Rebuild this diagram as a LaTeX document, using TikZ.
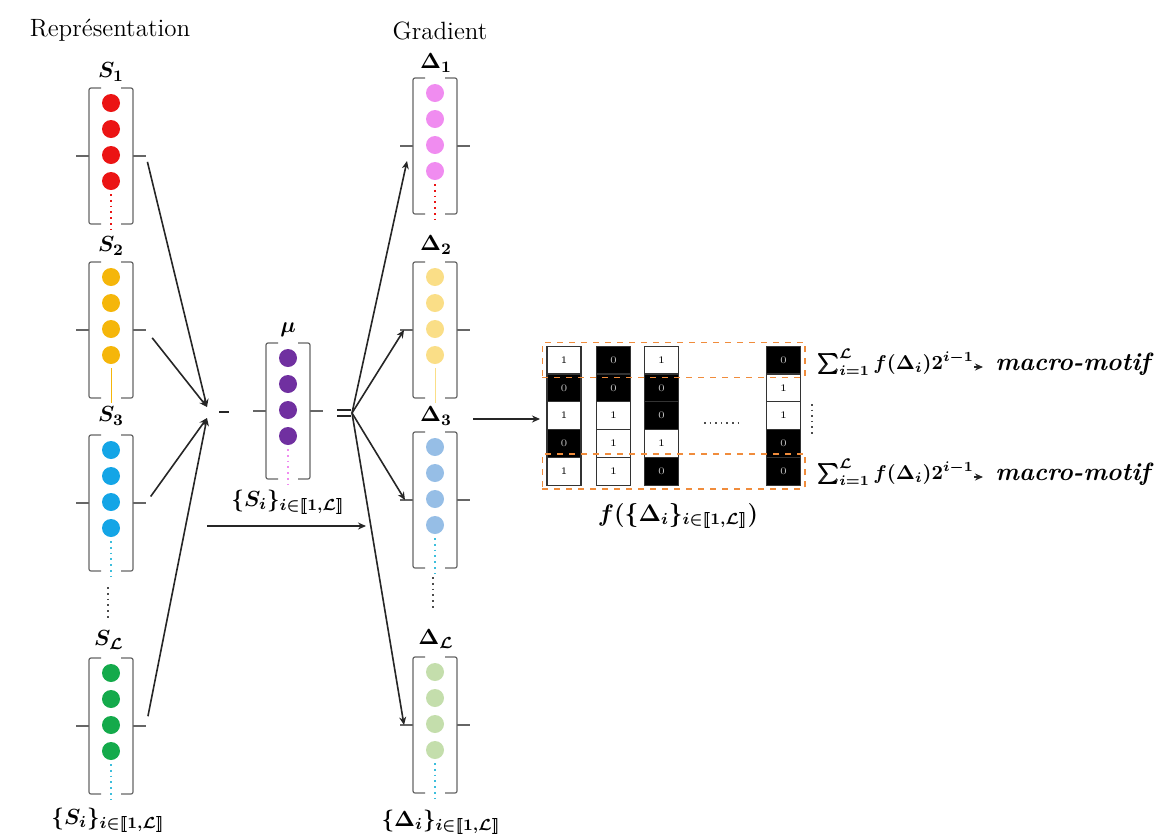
\documentclass[tikz,border=0pt]{standalone}
\usepackage{amsmath,bm}
\usetikzlibrary{arrows.meta,fit}
\definecolor{sred}{RGB}{235,20,20}
\definecolor{syellow}{RGB}{245,182,10}
\definecolor{sblue}{RGB}{20,165,230}
\definecolor{sgreen}{RGB}{20,170,75}
\definecolor{mpurple}{RGB}{112,48,160}
\definecolor{dpink}{RGB}{240,140,240}
\definecolor{dyellow}{RGB}{250,222,135}
\definecolor{dblue}{RGB}{150,190,230}
\definecolor{dgreen}{RGB}{196,222,172}
\definecolor{ocol}{RGB}{240,140,60}
\definecolor{cyanl}{RGB}{60,190,220}
\tikzset{
 brk/.style={draw=black!60, line width=0.6pt, rounded corners=1pt},
 conn/.style={draw=black!85, line width=0.8pt},
 arr/.style={conn, -{Stealth[length=4pt,width=3.5pt]}},
 lbl/.style={inner sep=0, font=\fontsize{11}{13}\selectfont},
 ttl/.style={inner sep=0, font=\fontsize{12.5}{14}\selectfont},
 one/.style={draw=black!80, fill=white, line width=0.6pt, minimum width=17pt, minimum height=13.9pt, inner sep=0, font=\fontsize{5}{6}\selectfont},
 zero/.style={one, fill=black, text=white!75!black},
 obox/.style={draw=ocol, dashed, line width=0.9pt, inner xsep=2pt, inner ysep=1.5pt},
 rtxt/.style={inner sep=0, anchor=west, font=\fontsize{12.5}{14}\selectfont},
 stxt/.style={inner sep=0, anchor=west, font=\fontsize{10}{12}\selectfont},
 vdot/.style={dotted, line width=0.9pt},
 vsol/.style={line width=0.5pt},
}
\newcommand\vecbox[5]{%
 \begin{scope}[shift={(#2,#3)}]
  \node[inner sep=0, minimum width=22pt, minimum height=68pt, anchor=north] (#1) at (0,0) {};
  \draw[brk] (-10,0) -- (-22,0) -- (-22,136) -- (-10,136);
  \draw[brk] (10,0) -- (22,0) -- (22,136) -- (10,136);
  \draw[brk] (-22,68) -- (-35,68);
  \draw[brk] (22,68) -- (35,68);
  \coordinate (#1-l) at (-35,68);
  \coordinate (#1-r) at (35,68);
  \foreach \k in {0,...,3} \fill[#4] (0,15+26*\k) circle[radius=9];
  \draw[#5] (0,106) -- (0,141);
 \end{scope}}
\begin{document}
\begin{tikzpicture}[x=0.5pt,y=-0.5pt]
\useasboundingbox (0,0) rectangle (1165,837);
% titles
\node[ttl] (trep) at (110,30) {Représentation};
\node[ttl] (tgrad) at (440,31) {Gradient};
% left column
\node[lbl] (ls1) at (111,72) {$\bm{S_1}$};
\vecbox{s1}{111}{88}{sred}{sred,vdot}
\node[lbl] (ls2) at (111,246) {$\bm{S_2}$};
\vecbox{s2}{111}{262}{syellow}{syellow,vsol}
\node[lbl] (ls3) at (111,416) {$\bm{S_3}$};
\vecbox{s3}{111}{435}{sblue}{cyanl,vdot}
\draw[vdot,black!70] (108,587) -- (108,618);
\node[lbl] (lsl) at (109,640) {$\bm{S_{\mathcal{L}}}$};
\vecbox{sl}{111}{658}{sgreen}{cyanl,vdot}
\node[lbl] (lsb) at (108,820) {$\bm{\{S_i\}_{i\in[\![1,\mathcal{L}]\!]}}$};
% mu
\node[lbl] (lmu) at (288,330) {$\bm{\mu}$};
\vecbox{mu}{288}{343}{mpurple}{dpink,vdot}
\node[lbl] (lsm) at (288,502) {$\bm{\{S_i\}_{i\in[\![1,\mathcal{L}]\!]}}$};
% delta column
\node[lbl] (ld1) at (436,63) {$\bm{\Delta_1}$};
\vecbox{d1}{435}{78}{dpink}{sred,vdot}
\node[lbl] (ld2) at (436,245) {$\bm{\Delta_2}$};
\vecbox{d2}{435}{262}{dyellow}{dyellow,vsol}
\node[lbl] (ld3) at (436,416) {$\bm{\Delta_3}$};
\vecbox{d3}{435}{432}{dblue}{cyanl,vdot}
\draw[vdot,black!70] (433,577) -- (433,608);
\node[lbl] (ldl) at (436,639) {$\bm{\Delta_{\mathcal{L}}}$};
\vecbox{dl}{435}{657}{dgreen}{cyanl,vdot}
\node[lbl] (ldb) at (441,822) {$\bm{\{\Delta_i\}_{i\in[\![1,\mathcal{L}]\!]}}$};
% convergence
\coordinate (c1) at (207,407);
\coordinate (c2) at (207,418);
\draw[arr, shorten <=3pt] (s1-r) -- (c1);
\draw[arr, shorten <=5pt] (s2-r) -- (c1);
\draw[arr, shorten <=4pt] (s3-r) -- (c2);
\draw[arr, shorten <=5pt] (sl-r) -- (c2);
\coordinate (dsh1) at (219,412);
\coordinate (dsh2) at (229,412);
\draw[conn] (dsh1) -- (dsh2);
% equal sign and fan out
\coordinate (eqa) at (337,410);
\coordinate (eqb) at (351,410);
\coordinate (eqc) at (337,416);
\coordinate (eqd) at (351,416);
\draw[conn] (eqa) -- (eqb);
\draw[conn] (eqc) -- (eqd);
\coordinate (eq) at (352,413);
\draw[arr] (eq) -- ([shift={(7,15)}]d1-l);
\draw[arr] (eq) -- ([shift={(4,0)}]d2-l);
\draw[arr] (eq) -- ([shift={(5,0)}]d3-l);
\draw[arr] (eq) -- ([shift={(4,0)}]dl-l);
% horizontal arrow
\coordinate (ha) at (207,526);
\coordinate (hb) at (366,526);
\draw[arr] (ha) -- (hb);
% matrix
\node[one]  (m11) at (564,360) {1};
\node[zero] (m12) at (564,387.8) {0};
\node[one]  (m13) at (564,415.6) {1};
\node[zero] (m14) at (564,443.4) {0};
\node[one]  (m15) at (564,471.2) {1};
\node[zero] (m21) at (613.5,360) {0};
\node[zero] (m22) at (613.5,387.8) {0};
\node[one]  (m23) at (613.5,415.6) {1};
\node[one]  (m24) at (613.5,443.4) {1};
\node[one]  (m25) at (613.5,471.2) {1};
\node[one]  (m31) at (661.5,360) {1};
\node[zero] (m32) at (661.5,387.8) {0};
\node[zero] (m33) at (661.5,415.6) {0};
\node[one]  (m34) at (661.5,443.4) {1};
\node[zero] (m35) at (661.5,471.2) {0};
\node[zero] (m41) at (783.5,360) {0};
\node[one]  (m42) at (783.5,387.8) {1};
\node[one]  (m43) at (783.5,415.6) {1};
\node[zero] (m44) at (783.5,443.4) {0};
\node[zero] (m45) at (783.5,471.2) {0};
\node[obox, fit=(m11)(m41)] (otop) {};
\node[obox, fit=(m15)(m45)] (obot) {};
\draw[dotted, line width=0.8pt, black!70] (704,423) -- (738,423);
\draw[dotted, line width=0.8pt, black!70] (812,404) -- (812,437);
\coordinate (ma) at (473,419);
\coordinate (mb) at (540,419);
\draw[arr] (ma) -- (mb);
\node[lbl, font=\fontsize{12}{14}\selectfont] (lf) at (678,516) {$\bm{f(\{\Delta_i\}_{i\in[\![1,\mathcal{L}]\!]})}$};
% right labels
\node[stxt] (sum1) at (817,362) {$\bm{\sum_{i=1}^{\mathcal{L}} f(\Delta_i)2^{i-1}}$};
\node[rtxt] (mm1) at (995,364) {\textbf{\textit{macro-motif}}};
\draw[arr, shorten <=0pt, shorten >=6pt] ([yshift=-2.5pt]sum1.east) -- ([yshift=-2.5pt]sum1.east -| mm1.west);
\node[stxt] (sum2) at (817,472) {$\bm{\sum_{i=1}^{\mathcal{L}} f(\Delta_i)2^{i-1}}$};
\node[rtxt] (mm2) at (995,474) {\textbf{\textit{macro-motif}}};
\draw[arr, shorten <=0pt, shorten >=6pt] ([yshift=-2.5pt]sum2.east) -- ([yshift=-2.5pt]sum2.east -| mm2.west);
\end{tikzpicture}
\end{document}
